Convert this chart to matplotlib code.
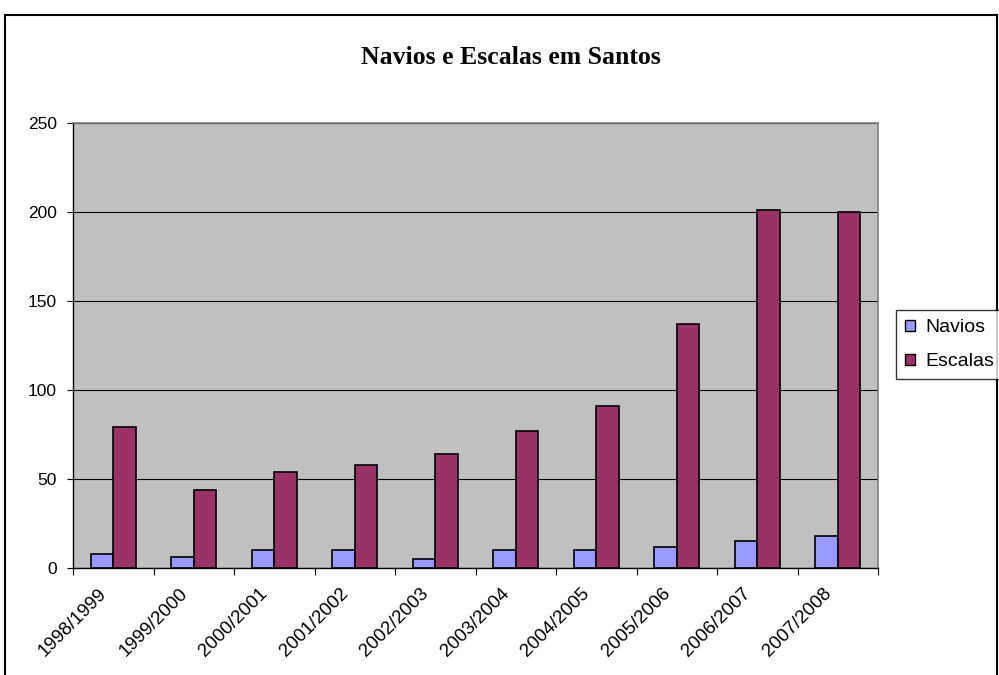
import matplotlib
matplotlib.use("Agg")
import matplotlib.pyplot as plt
import matplotlib.transforms as mtransforms
import numpy as np
from matplotlib.patches import Rectangle

categories = ["1998/1999", "1999/2000", "2000/2001", "2001/2002", "2002/2003",
              "2003/2004", "2004/2005", "2005/2006", "2006/2007", "2007/2008"]
navios = [8, 6, 10, 10, 5, 10, 10, 12, 15, 18]
escalas = [79, 44, 54, 58, 64, 77, 91, 137, 201, 200]
yticks = [0, 50, 100, 150, 200, 250]

fig = plt.figure(figsize=(9.99, 6.75), dpi=100)
ax = fig.add_axes([73/999, 1-568/675, (878-73)/999, (568-123)/675])
ax.set_facecolor("#C0C0C0")

x = np.arange(len(categories))
w = 0.282
b1 = ax.bar(x - w/2, navios, w, color="#9999FF", edgecolor="black", linewidth=1.2, label="Navios", zorder=3)
b2 = ax.bar(x + w/2, escalas, w, color="#993366", edgecolor="black", linewidth=1.2, label="Escalas", zorder=3)

ax.set_xlim(-0.5, len(categories) - 0.5)
ax.set_ylim(0, 250)
ax.set_yticks(yticks)
ax.yaxis.grid(True, color="black", linewidth=0.8, zorder=1)
ax.set_axisbelow(True)

ax.set_xticks(np.arange(len(categories) + 1) - 0.5, minor=False)
ax.set_xticklabels([])
ax.set_xticks(x, minor=True)
ax.set_xticklabels(categories, minor=True, rotation=45, ha="right", va="center", rotation_mode="anchor",
                   fontsize=13.5, family="Liberation Sans")
ax.tick_params(axis="x", which="minor", length=0, pad=16.5)
ax.tick_params(axis="x", which="major", length=5, direction="out", color="black")
ax.tick_params(axis="y", length=4.5, direction="out", labelsize=12.5, pad=7)
offset = mtransforms.ScaledTranslation(-9/100, 0, fig.dpi_scale_trans)
for lbl in ax.get_xticklabels(minor=True):
    lbl.set_transform(lbl.get_transform() + offset)
for lbl in ax.get_yticklabels():
    lbl.set_family("Liberation Sans")

for s in ["left", "bottom"]:
    ax.spines[s].set_color("black")
    ax.spines[s].set_linewidth(1)
for s in ["top", "right"]:
    ax.spines[s].set_color("#808080")
    ax.spines[s].set_linewidth(1.2)

fig.text(511/999, 1 - 57/675, "Navios e Escalas em Santos", ha="center", va="center",
         fontsize=18.5, fontweight="bold", family="Liberation Serif")

leg = fig.legend(handles=[b1, b2], labels=["Navios", "Escalas"], loc="upper left",
                 bbox_to_anchor=(896/999, 1 - 310/675), frameon=True, fancybox=False,
                 edgecolor="black", prop={"family": "Liberation Sans", "size": 14},
                 handlelength=0.5, handleheight=0.5, handletextpad=0.55, borderpad=0.48,
                 labelspacing=0.86, borderaxespad=0)
leg.get_frame().set_linewidth(1)
for h in leg.legend_handles:
    h.set_linewidth(1)

fig.patches.append(Rectangle((5/999, -0.05), (997-5)/999, 1 - 15/675 + 0.05, transform=fig.transFigure,
                             fill=False, edgecolor="black", linewidth=1.5))

fig.savefig("out.png", dpi=100)
